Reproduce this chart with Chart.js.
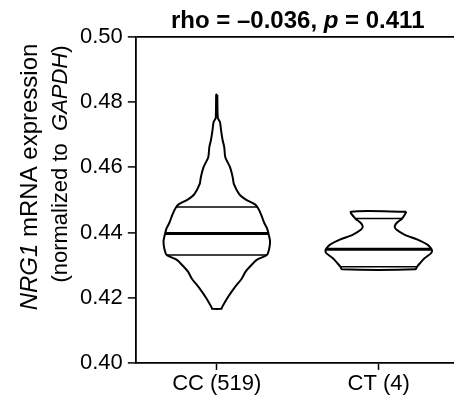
<!DOCTYPE html>
<html><head><meta charset="utf-8">
<script src="https://cdn.jsdelivr.net/npm/chart.js@4"></script>
<style>html,body{margin:0;padding:0;background:#fff}</style>
</head><body>
<canvas id="c" width="454" height="397" style="display:block;width:454px;height:397px"></canvas>
<script>
// ---- data ----
const categories = ['CC (519)', 'CT (4)'];
const yTickValues = [0.40, 0.42, 0.44, 0.46, 0.48, 0.50];

// CC violin: expression levels (top -> bottom) and relative density (max = 1)
const ccLevels  = [0.4823, 0.4752, 0.4739, 0.4714, 0.4683, 0.4662, 0.4631, 0.4600, 0.4569, 0.4549,
                   0.4518, 0.4502, 0.4487, 0.4476, 0.4456, 0.4430, 0.4414, 0.4397, 0.4373, 0.4347,
                   0.4331, 0.4316, 0.4295, 0.4280, 0.4259, 0.4228, 0.4197, 0.4168, 0.4166];
const ccDensity = [0.01, 0.02, 0.06, 0.08, 0.11, 0.14, 0.16, 0.25, 0.30, 0.32,
                   0.42, 0.54, 0.71, 0.77, 0.83, 0.89, 0.94, 0.97, 1.00, 0.98,
                   0.94, 0.75, 0.62, 0.54, 0.47, 0.32, 0.19, 0.09, 0.09];
const ccQuantiles = [0.4331, 0.4397, 0.4478];

// CT violin
const ctLevels  = [0.4464, 0.4443, 0.4430, 0.4419, 0.4409, 0.4393, 0.4378, 0.4362, 0.4349,
                   0.4343, 0.4336, 0.4321, 0.4305, 0.4295, 0.4287];
const ctDensity = [0.52, 0.44, 0.34, 0.30, 0.33, 0.49, 0.73, 0.92, 0.99,
                   1.00, 0.98, 0.86, 0.77, 0.72, 0.69];
const ctQuantiles = [0.4295, 0.4349, 0.4443];

const titleParts = [['rho = \u20130.036, ', false], ['p', true], [' = 0.411', false]];
const yTitleLine1 = [['NRG1', true], [' mRNA expression', false]];
const yTitleLine2 = [['(normalized to  ', false], ['GAPDH', true], [')', false]];

// ---- styling ----
const FONT = "'Liberation Sans', Arial, Helvetica, sans-serif";
const HALF = 0.329;          // violin half-width (x units) at density 1
const X_MIN = 0.5, X_MAX = 2.465;

function outline(center, levels, dens) {
  const right = levels.map((v, i) => ({x: center + dens[i] * HALF, y: v}));
  const left = levels.map((v, i) => ({x: center - dens[i] * HALF, y: v})).reverse();
  return [...right, ...left, right[0]];
}
function densAt(levels, dens, q) {
  for (let i = 0; i < levels.length - 1; i++) {
    const a = levels[i], b = levels[i + 1];
    if ((q <= a && q >= b)) {
      const t = (a - q) / (a - b);
      return dens[i] + t * (dens[i + 1] - dens[i]);
    }
  }
  return dens[dens.length - 1];
}
const datasets = [];
const groups = [[ccLevels, ccDensity, ccQuantiles], [ctLevels, ctDensity, ctQuantiles]];
groups.forEach(([lv, dn, qs], gi) => {
  const c = gi + 1;
  datasets.push({data: outline(c, lv, dn), borderColor: '#000', borderWidth: 2, tension: 0.25,
                 pointRadius: 0, showLine: true, fill: false});
  qs.forEach((q, qi) => {
    const w = densAt(lv, dn, q) * HALF;
    datasets.push({data: [{x: c - w, y: q}, {x: c + w, y: q}], borderColor: '#000',
                   borderWidth: qi === 1 ? 3 : 1.5, pointRadius: 0, showLine: true, fill: false});
  });
});

function drawParts(ctx, parts, weight, size, x, y, rotate) {
  ctx.save();
  ctx.translate(x, y);
  if (rotate) ctx.rotate(-Math.PI / 2);
  const fonts = parts.map(p => (p[1] ? 'italic ' : '') + weight + ' ' + size + 'px ' + FONT);
  let total = 0;
  const widths = parts.map((p, i) => { ctx.font = fonts[i]; const w = ctx.measureText(p[0]).width; total += w; return w; });
  let cx = -total / 2;
  ctx.fillStyle = '#000';
  ctx.textBaseline = 'alphabetic';
  ctx.textAlign = 'left';
  parts.forEach((p, i) => { ctx.font = fonts[i]; ctx.fillText(p[0], cx, 0); cx += widths[i]; });
  ctx.restore();
}

const textPlugin = {
  id: 'texts',
  afterDraw(chart) {
    const ctx = chart.ctx;
    const xs = chart.scales.x, area = chart.chartArea;
    drawParts(ctx, titleParts, 'bold', 24, xs.getPixelForValue(1.5), area.top - 9, false);
    drawParts(ctx, yTitleLine1, 'normal', 24, 37, 177, true);
    drawParts(ctx, yTitleLine2, 'normal', 22, 67, 164, true);
  }
};

new Chart(document.getElementById('c'), {
  type: 'scatter',
  data: {datasets},
  options: {
    responsive: false, animation: false, devicePixelRatio: 1,
    layout: {padding: {left: 75, top: 37, right: 0, bottom: 0}},
    plugins: {legend: {display: false}, tooltip: {enabled: false}, title: {display: false}},
    scales: {
      x: {
        type: 'linear', min: X_MIN, max: X_MAX,
        afterBuildTicks(axis) { axis.ticks = categories.map((c, i) => ({value: i + 1})); },
        ticks: {callback: v => categories[v - 1], color: '#000', padding: 2,
                font: {family: FONT, size: 22, lineHeight: 1.05}, maxRotation: 0, autoSkip: false},
        grid: {drawOnChartArea: false, tickLength: 7, tickColor: '#000', tickWidth: 1.5},
        border: {color: '#000', width: 1.8}
      },
      y: {
        type: 'linear', min: yTickValues[0], max: yTickValues[yTickValues.length - 1],
        afterBuildTicks(axis) { axis.ticks = yTickValues.map(v => ({value: v})); },
        ticks: {callback: v => v.toFixed(2), color: '#000', padding: 5,
                font: {family: FONT, size: 22}},
        grid: {drawOnChartArea: true, tickLength: 8, tickColor: '#000', tickWidth: 1.5,
               color: c => (c.tick && Math.abs(c.tick.value - 0.5) < 1e-9) ? '#000' : 'rgba(0,0,0,0)',
               lineWidth: 1.8},
        border: {color: '#000', width: 1.8}
      }
    }
  },
  plugins: [textPlugin]
});
</script>
</body></html>
